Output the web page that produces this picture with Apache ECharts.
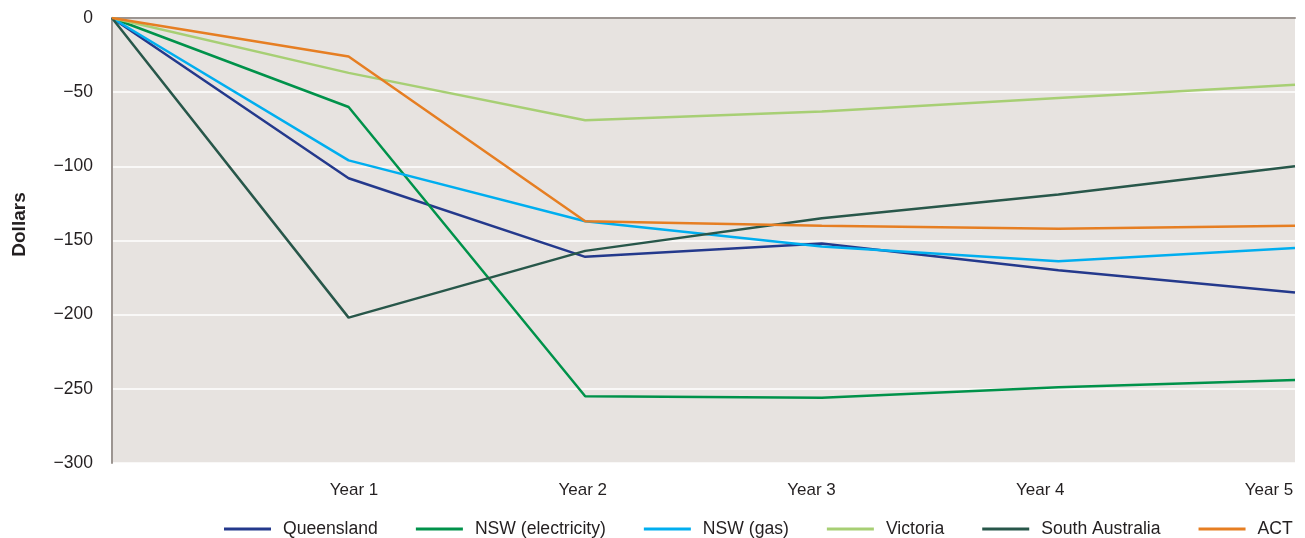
<!DOCTYPE html>
<html>
<head>
<meta charset="utf-8">
<title>Change in bills by year</title>
<script src="https://cdn.jsdelivr.net/npm/echarts@6/dist/echarts.min.js"></script>
<style>
  html, body { margin: 0; padding: 0; background: #ffffff; }
  #chart { width: 1305px; height: 538px; }
</style>
</head>
<body>
<div id="chart"></div>
<script>
// Points along the x axis: the starting point (no label) and five years
const categories = ['', 'Year 1', 'Year 2', 'Year 3', 'Year 4', 'Year 5'];
const yearLabels = ['Year 1', 'Year 2', 'Year 3', 'Year 4', 'Year 5'];

// Change in dollars from the starting point
const queensland      = [0, -108, -161, -152, -170, -185];
const nswElectricity  = [0,  -60, -255, -256, -249, -244];
const nswGas          = [0,  -96, -137, -154, -164, -155];
const victoria        = [0,  -37,  -69,  -63,  -54,  -45];
const southAustralia  = [0, -202, -157, -135, -119, -100];
const act             = [0,  -26, -137, -140, -142, -140];

const yTicks = [0, -50, -100, -150, -200, -250, -300];

const seriesDefs = [
  { name: 'Queensland',        data: queensland,     color: '#24398c' },
  { name: 'NSW (electricity)', data: nswElectricity, color: '#00924a' },
  { name: 'NSW (gas)',         data: nswGas,         color: '#00aeef' },
  { name: 'Victoria',          data: victoria,       color: '#a7cf74' },
  { name: 'South Australia',   data: southAustralia, color: '#28574a' },
  { name: 'ACT',               data: act,            color: '#e67e22' }
];

const FONT = '"Liberation Sans", Arial, Helvetica, sans-serif';
const TEXT = '#231f20';

const chart = echarts.init(document.getElementById('chart'), null, { renderer: 'canvas' });

chart.setOption({
  animation: false,
  textStyle: { fontFamily: FONT },
  grid: {
    left: 112, right: 10, top: 18, bottom: 75,
    outerBoundsMode: 'none',
    containLabel: false,
    show: true,
    backgroundColor: '#e7e3e0',
    borderWidth: 0
  },
  xAxis: [
    {
      // category axis carrying the data; its line sits at zero (top edge)
      type: 'category',
      data: categories,
      boundaryGap: false,
      axisLine: { show: true, onZero: true, lineStyle: { color: '#9c9591', width: 2 } },
      axisTick: { show: false },
      axisLabel: { show: false },
      splitLine: { show: false }
    },
    {
      // label-only axis for the year captions along the bottom
      type: 'value',
      position: 'bottom',
      min: -0.0579,
      max: 5.1137,
      axisLine: { show: false, onZero: false },
      axisTick: { show: false },
      splitLine: { show: false },
      axisLabel: {
        customValues: [1, 2, 3, 4, 5],
        formatter: v => yearLabels[Math.round(v) - 1],
        color: TEXT,
        fontSize: 17,
        fontFamily: FONT,
        margin: 19
      }
    }
  ],
  yAxis: {
    type: 'value',
    min: -300,
    max: 0,
    interval: 50,
    name: 'Dollars',
    nameLocation: 'middle',
    nameGap: 83,
    nameTextStyle: { fontSize: 19, fontWeight: 'bold', color: TEXT, fontFamily: FONT, padding: [0, 0, 0, 32] },
    axisLine: { show: true, onZero: false, lineStyle: { color: '#9c9591', width: 2 } },
    axisTick: { show: false },
    axisLabel: {
      customValues: yTicks,
      formatter: v => String(v).replace('-', '\u2212'),
      color: TEXT,
      fontSize: 17.5,
      fontFamily: FONT,
      margin: 19
    },
    splitLine: { show: true, lineStyle: { color: '#ffffff', width: 1.5 } }
  },
  legend: {
    left: 224,
    top: 520,
    padding: 0,
    icon: 'rect',
    itemWidth: 47,
    itemHeight: 3,
    itemGap: 38,
    textStyle: { fontSize: 17.6, color: TEXT, fontFamily: FONT, padding: [0, 0, 0, 7] },
    data: seriesDefs.map(s => s.name)
  },
  series: seriesDefs.map(s => ({
    name: s.name,
    type: 'line',
    xAxisIndex: 0,
    data: s.data,
    symbol: 'none',
    smooth: false,
    color: s.color,
    lineStyle: { width: 2.5, color: s.color }
  }))
});
</script>
</body>
</html>
